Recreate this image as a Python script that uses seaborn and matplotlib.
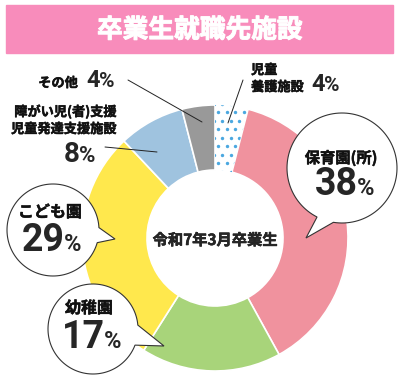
import numpy as np
import seaborn as sns
import matplotlib.pyplot as plt
import matplotlib.patheffects as pe
from matplotlib.patches import Rectangle, Polygon

# データ
labels = ['児童養護施設', '保育園(所)', '幼稚園', 'こども園', '障がい児(者)支援 児童発達支援施設', 'その他']
percents = [4, 38, 17, 29, 8, 4]
colors = ['#FFFFFF', '#F0929E', '#A8D47A', '#FFE84D', '#9FC3DF', '#999999']
title = '卒業生就職先施設'
center_text = '令和7年3月卒業生'

sns.set_theme(style='white')
plt.rcParams['font.family'] = ['Noto Sans CJK JP', 'DejaVu Sans']

fig = plt.figure(figsize=(4, 3.8), dpi=100)
ax = fig.add_axes([0, 0, 1, 1])

# ドーナツ (y軸を反転するので counterclock=True で見た目は時計回り)
cx, cy, R = 215, 238, 133
wedges, _ = ax.pie(percents, colors=colors, startangle=-90, counterclock=True,
                   center=(cx, cy), radius=R,
                   wedgeprops=dict(width=65, edgecolor='white', linewidth=1.2))
ax.set_xlim(0, 400)
ax.set_ylim(380, 0)
ax.set_aspect('equal')
ax.axis('off')

# 児童養護施設の水玉
gx, gy = np.meshgrid(np.arange(150, 280, 8.5), np.arange(95, 180, 8.5))
gx = gx + (np.arange(gx.shape[0])[:, None] % 2) * 4.25
dots = ax.scatter(gx.ravel(), gy.ravel(), s=6, color='#4BA8E0', linewidths=0, zorder=3)
dots.set_clip_path(wedges[0])


# 太字っぽく見せる
def bold(c='black', w=0.35):
    return [pe.withStroke(linewidth=w, foreground=c)]


def label(x, y, s, size=9.5, ha='left'):
    ax.text(x, y, s, fontsize=size, fontweight='bold', ha=ha, va='baseline', zorder=5,
            color='#111111', path_effects=bold('#111111'))


def pct(x, y, num, big, small):
    ax.text(x, y, num, fontsize=big, fontweight='bold', ha='right', va='baseline', zorder=5,
            family=['Roboto', 'DejaVu Sans'])
    ax.text(x - 1, y, '%', fontsize=small, fontweight='bold', ha='left', va='baseline', zorder=5,
            family=['Roboto', 'DejaVu Sans'])


def bubble(x0, y0, r, a1, a2, tip):
    t = np.radians(np.linspace(a2, a1 + 360, 120))
    pts = np.column_stack([x0 + r * np.cos(t), y0 + r * np.sin(t)])
    pts = np.vstack([pts, tip])
    ax.add_patch(Polygon(pts, closed=True, facecolor='white', edgecolor='#333333',
                         linewidth=0.8, zorder=4))


# タイトル帯
ax.add_patch(Rectangle((6, 5), 387, 48, color='#F88CBB', zorder=1))
ax.text(200, 30, title, color='white', fontsize=18.5, fontweight='bold', ha='center', va='center',
        path_effects=bold('white', 0.7))

ax.text(cx, cy + 2, center_text, fontsize=11, fontweight='bold', ha='center', va='center',
        path_effects=bold())

# 吹き出し
bubble(342, 168, 55, 99, 117, (306, 238))
label(341, 163, '保育園(所)', 11, 'center')
pct(358, 195, str(percents[1]), 27, 17)

bubble(53, 230, 46, -3, 16, (115, 239))
label(50, 217, 'こども園', 11.5, 'center')
pct(65, 251, str(percents[3]), 27, 17)

bubble(93, 329, 45, -5, 21, (164, 346))
label(89, 313, '幼稚園', 11.5, 'center')
pct(105, 348, str(percents[2]), 27, 17)

# 引き出し線
lk = dict(color='#222222', linewidth=0.7, zorder=4)
ax.plot([243, 228], [80, 123], **lk)
ax.plot([128, 202], [80, 122], **lk)
ax.plot([105, 157], [147, 152], **lk)

label(251, 74, '児童')
label(251, 91, '養護施設')
pct(325, 91, str(percents[0]), 17, 15)

label(78, 87, 'その他', ha='right')
pct(100, 87, str(percents[5]), 17, 15)

label(117, 116, '障がい児(者)支援', ha='right')
label(117, 133, '児童発達支援施設', ha='right')
pct(80, 162, str(percents[4]), 20, 16)

fig.savefig('out.png', dpi=100, facecolor='white')
